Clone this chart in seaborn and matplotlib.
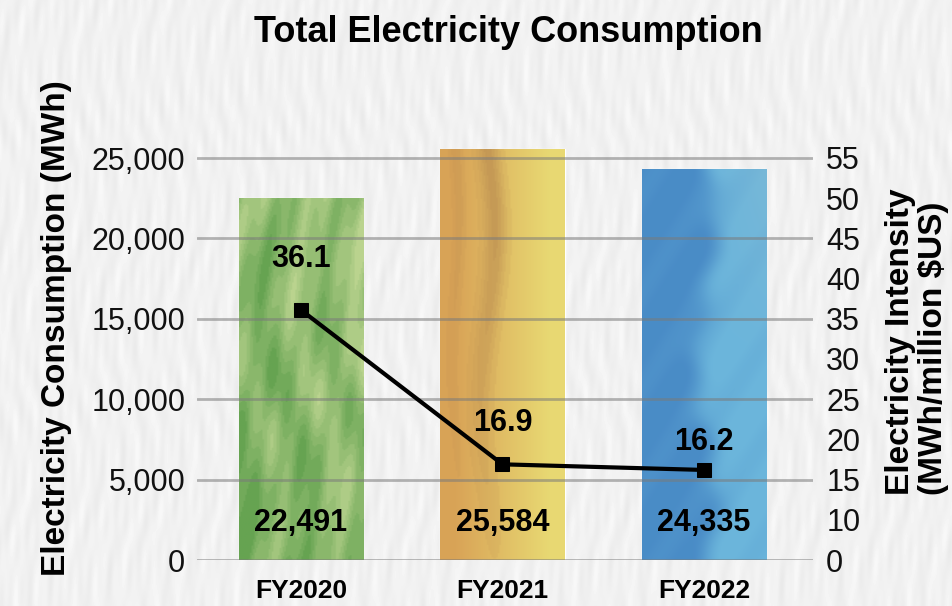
import numpy as np
import pandas as pd
import matplotlib
matplotlib.use("Agg")
import matplotlib.pyplot as plt
import seaborn as sns

# ---- data ----
years = ["FY2020", "FY2021", "FY2022"]
consumption = [22491, 25584, 24335]          # MWh
intensity = [36.1, 16.9, 16.2]               # MWh / million $US
left_ticks = [0, 5000, 10000, 15000, 20000, 25000]
right_ticks = [5, 10, 15, 20, 25, 30, 35, 40, 45, 50, 55]
right_tick_labels = ["0", "10", "15", "20", "25", "30", "35", "40", "45", "50", "55"]

df = pd.DataFrame({"year": years, "consumption": consumption, "intensity": intensity})

sns.set_style("white")
plt.rcParams["font.family"] = ["Liberation Sans", "DejaVu Sans"]
plt.rcParams.update({"text.color": "black", "axes.labelcolor": "black",
                     "xtick.color": "black", "ytick.color": "black"})

W, H = 953, 606
fig = plt.figure(figsize=(W / 100, H / 100), dpi=100)


def lerp(c0, c1, t):
    c0 = np.asarray(c0, float)
    c1 = np.asarray(c1, float)
    if c0.ndim == 1:
        c0 = c0[None, None, :]
    if c1.ndim == 1:
        c1 = c1[None, None, :]
    t = np.clip(t, 0, 1)[..., None]
    return c0 * (1 - t) + c1 * t


def grid_uv(h, w):
    yy, xx = np.mgrid[0:1:h * 1j, 0:1:w * 1j]
    return xx, yy


def paper_texture(h, w):
    xx, yy = grid_uv(h, w)
    v = (0.945
         + 0.018 * np.sin(2 * np.pi * (41 * xx + 0.6 * np.sin(2 * np.pi * 2.3 * yy)))
         * np.sin(2 * np.pi * (3.1 * yy + 7 * xx))
         + 0.012 * np.sin(2 * np.pi * (97 * xx + 1.7 * yy))
         * np.sin(2 * np.pi * (5.3 * yy + 2 * xx)))
    return np.clip(v, 0, 1)


def green_texture(h, w):
    xx, yy = grid_uv(h, w)
    t = (0.45
         + 0.26 * np.sin(2 * np.pi * (2.0 * xx + 0.4 * np.sin(2 * np.pi * 0.9 * yy)))
         + 0.12 * np.sin(2 * np.pi * (6 * xx + 2.5 * yy))
         + 0.10 * np.sin(2 * np.pi * (3 * yy + xx))
         + 0.30 * (xx - 0.5) + 0.25 * (0.5 - yy))
    t = np.round(np.clip(t, 0, 1) * 7) / 7
    return lerp((0.40, 0.64, 0.32), (0.73, 0.83, 0.56), t)


def yellow_texture(h, w):
    xx, yy = grid_uv(h, w)
    base = lerp((0.85, 0.64, 0.34), (0.91, 0.85, 0.45), np.clip(1.3 * xx - 0.15, 0, 1))
    cx = 0.38 + 0.06 * np.sin(2 * np.pi * 1.2 * yy)
    s = np.exp(-((xx - cx) / 0.09) ** 2) * np.clip(1.2 - 1.1 * yy, 0, 1)
    s += 0.5 * np.exp(-((xx - 0.12 - 0.03 * np.sin(9 * yy)) / 0.05) ** 2) * np.clip(1.0 - yy, 0, 1)
    s = np.round(np.clip(s, 0, 1) * 5) / 5
    return lerp(base, (0.72, 0.54, 0.31), 0.65 * s)


def blue_texture(h, w):
    xx, yy = grid_uv(h, w)
    bx = 0.52 + 0.08 * np.sin(2 * np.pi * 1.5 * yy) + 0.03 * np.sin(2 * np.pi * 6 * yy)
    t = 1 / (1 + np.exp(-(xx - bx) / 0.05))
    t += 0.12 * np.sin(2 * np.pi * (4 * yy + 2 * xx))
    col = lerp((0.29, 0.55, 0.78), (0.42, 0.71, 0.86), t)
    pale = np.clip(0.6 - 1.2 * yy, 0, 1) * np.clip((xx - 0.5) * 2, 0, 1)
    return lerp(col, (0.55, 0.74, 0.82), 0.6 * pale)


# paper background
bg = fig.add_axes([0, 0, 1, 1], zorder=-10)
bg.imshow(paper_texture(H, W), cmap="gray", vmin=0, vmax=1, aspect="auto", interpolation="bilinear")
bg.set_axis_off()

# ---- main axes geometry (pixels) ----
x_left, x_right = 197, 813
y_zero, y_top_tick, y_axes_top = 560, 158, 130
ax = fig.add_axes([x_left / W, 1 - y_zero / H, (x_right - x_left) / W, (y_zero - y_axes_top) / H])
ax.patch.set_visible(False)

bar_palette = ["#8ebd6a", "#ddb658", "#4f9bd0"]
sns.barplot(data=df, x="year", y="consumption", hue="year", palette=bar_palette,
            legend=False, width=0.62, saturation=1, ax=ax, zorder=1)

for patch, make in zip(ax.patches, [green_texture, yellow_texture, blue_texture]):
    x0, w, h = patch.get_x(), patch.get_width(), patch.get_height()
    im = ax.imshow(make(300, 80), extent=(x0, x0 + w, 0, h), aspect="auto",
                   origin="upper", zorder=1.5, interpolation="bilinear")
    im.set_clip_path(patch)

left_top = 25000 * (y_zero - y_axes_top) / (y_zero - y_top_tick)
ax.set_xlim(-0.516, 2.541)
ax.set_ylim(0, left_top)
ax.set_aspect("auto")
ax.set_yticks(left_ticks)
ax.set_yticklabels([f"{v:,}" for v in left_ticks])
ax.yaxis.grid(True, color="#7a7a7a", alpha=0.55, lw=2.0)
ax.xaxis.grid(False)
ax.set_axisbelow(False)
ax.tick_params(axis="y", length=0, pad=8.5, labelsize=22, labelcolor="#111111")
ax.tick_params(axis="x", length=0, pad=14, labelsize=19, labelcolor="black")
for lab in ax.get_xticklabels():
    lab.set_fontweight("bold")
ax.set_xlabel("")
ax.set_ylabel("Electricity Consumption (MWh)", fontsize=24, fontweight="bold", va="center")
ax.yaxis.set_label_coords((57 - x_left) / (x_right - x_left), (y_zero - 328) / (y_zero - y_axes_top))
for s in ax.spines.values():
    s.set_visible(False)

# consumption values near the base of each bar
for i, v in enumerate(consumption):
    ax.annotate(f"{v:,}", xy=(i, 0), xytext=(0, 27), textcoords="offset points",
                ha="center", va="center", fontsize=22, fontweight="bold", zorder=5)

# ---- intensity line on the secondary axis ----
ax2 = ax.twinx()
ax2.patch.set_visible(False)
sns.lineplot(data=df, x="year", y="intensity", ax=ax2, color="black", lw=3,
             marker="s", markersize=10, markeredgecolor="black", sort=False, zorder=6)
right_top = 5 + 50 * (y_zero - y_axes_top) / (y_zero - y_top_tick)
ax2.set_ylim(5, right_top)
ax2.set_yticks(right_ticks)
ax2.set_yticklabels(right_tick_labels)
ax2.grid(False)
ax2.tick_params(axis="y", length=0, pad=9.5, labelsize=22, labelcolor="#111111")
ax2.set_ylabel("Electricity Intensity\n(MWh/million $US)", fontsize=24, fontweight="bold",
               va="center", ha="center", multialignment="left", linespacing=1.1)
ax2.yaxis.set_label_coords((917 - x_left) / (x_right - x_left), (y_zero - 342) / (y_zero - y_axes_top))
for s in ax2.spines.values():
    s.set_visible(False)

label_offsets = [37, 30, 20]
for i, (v, off) in enumerate(zip(intensity, label_offsets)):
    ax2.annotate(f"{v:.1f}", xy=(i, v), xytext=(0, off), textcoords="offset points",
                 ha="center", va="center", fontsize=22, fontweight="bold", zorder=7)

fig.text(508 / W, 1 - 33 / H, "Total Electricity Consumption", ha="center", va="center",
         fontsize=26, fontweight="bold")

fig.savefig("out.png", dpi=100)
